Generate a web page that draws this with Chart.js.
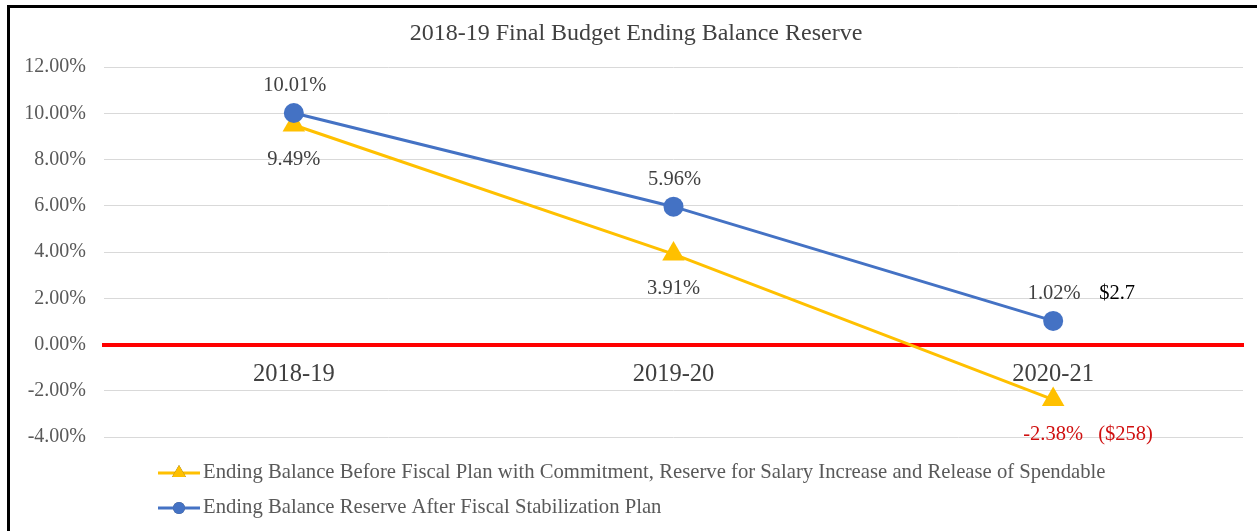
<!DOCTYPE html>
<html>
<head>
<meta charset="utf-8">
<script src="https://cdn.jsdelivr.net/npm/chart.js@4.4.0/dist/chart.umd.min.js"></script>
<style>
  body { margin: 0; background: #fff; }
  #wrap { position: absolute; left: 7px; top: 5px; width: 1247px; height: 523px;
          border-top: 3px solid #000; border-left: 3px solid #000; }
</style>
</head>
<body>
<div id="wrap"><canvas id="myChart" width="1247" height="523"></canvas></div>
<script>
const years = ['2018-19', '2019-20', '2020-21'];
const beforePlan = [9.49, 3.91, -2.38];
const afterPlan = [10.01, 5.96, 1.02];
const beforeAmounts = ['', '', '($258)'];
const afterAmounts = ['', '', '$2.7'];
const yTicks = [-4, -2, 0, 2, 4, 6, 8, 10, 12];
const beforeLabel = 'Ending Balance Before Fiscal Plan with Commitment, Reserve for Salary Increase and Release of Spendable';
const afterLabel = 'Ending Balance Reserve After Fiscal Stabilization Plan';
const chartTitle = '2018-19 Final Budget Ending Balance Reserve';

const SERIF = "'Liberation Serif', 'Times New Roman', serif";
Chart.defaults.font.family = SERIF;

const YELLOW = '#FFC000';
const BLUE = '#4472C4';

// labels, title and legend drawn by hand (Excel style)
const excelBits = {
  id: 'excelBits',
  afterDatasetsDraw(chart) {
    const ctx = chart.ctx;
    const x = chart.scales.x, y = chart.scales.y;
    ctx.save();
    ctx.textBaseline = 'middle';
    ctx.font = '20.5px ' + SERIF;

    // blue labels above the points
    afterPlan.forEach((v, i) => {
      const px = x.getPixelForValue(i), py = y.getPixelForValue(v);
      ctx.fillStyle = '#404040';
      ctx.textAlign = 'center';
      ctx.fillText(v.toFixed(2) + '%', px + 1, py - 27);
      if (afterAmounts[i]) {
        ctx.fillStyle = '#000';
        ctx.textAlign = 'left';
        ctx.fillText(afterAmounts[i], px + 46, py - 27);
      }
    });
    // yellow labels below the points
    beforePlan.forEach((v, i) => {
      const px = x.getPixelForValue(i), py = y.getPixelForValue(v);
      const neg = v < 0;
      ctx.fillStyle = neg ? '#D01010' : '#404040';
      ctx.textAlign = 'center';
      ctx.fillText(v.toFixed(2) + '%', px, py + 35);
      if (beforeAmounts[i]) {
        ctx.textAlign = 'left';
        ctx.fillText(beforeAmounts[i], px + 45, py + 35);
      }
    });

    // title
    ctx.fillStyle = '#404040';
    ctx.textAlign = 'center';
    ctx.font = '24px ' + SERIF;
    ctx.fillText(chartTitle, 626, 26);

    // legend
    const rows = [[beforeLabel, YELLOW, 'triangle'], [afterLabel, BLUE, 'circle']];
    ctx.font = '20.7px ' + SERIF;
    rows.forEach((r, k) => {
      const ly = 465 + k * 35;
      ctx.strokeStyle = r[1];
      ctx.lineWidth = 3;
      ctx.beginPath();
      ctx.moveTo(148, ly);
      ctx.lineTo(190, ly);
      ctx.stroke();
      Chart.helpers.drawPoint(ctx, {pointStyle: r[2], radius: r[2] === 'triangle' ? 8 : 6, borderWidth: 0}, 169, ly);
      ctx.fillStyle = r[1];
      ctx.fill();
      ctx.fillStyle = '#595959';
      ctx.textAlign = 'left';
      ctx.fillText(r[0], 193, ly);
    });
    ctx.restore();
  }
};

const data = {
  labels: years,
  datasets: [
    {
      label: beforeLabel,
      data: beforePlan,
      borderColor: YELLOW,
      backgroundColor: YELLOW,
      borderWidth: 3,
      pointStyle: 'triangle',
      pointRadius: 13,
      pointBorderWidth: 0,
      order: 1
    },
    {
      label: afterLabel,
      data: afterPlan,
      borderColor: BLUE,
      backgroundColor: BLUE,
      borderWidth: 3,
      pointStyle: 'circle',
      pointRadius: 10,
      pointBorderWidth: 0,
      order: 0
    }
  ]
};

const config = {
  type: 'line',
  data: data,
  options: {
    responsive: false,
    animation: false,
    layout: { padding: { top: 59, right: 14, bottom: 94, left: 0 } },
    plugins: {
      legend: { display: false },
      title: { display: false },
      tooltip: { enabled: false }
    },
    scales: {
      x: {
        position: { y: 0 },
        offset: true,
        grid: { display: false },
        border: { display: true, color: '#FF0000', width: 4 },
        ticks: { color: '#404040', font: { size: 24.5 }, padding: 7, maxRotation: 0 }
      },
      y: {
        min: -4,
        max: 12,
        afterFit: s => { s.width = 94; },
        afterBuildTicks: s => { s.ticks = yTicks.map(v => ({ value: v })); },
        grid: { color: '#D9D9D9', lineWidth: 1, drawTicks: false },
        border: { display: false },
        ticks: {
          color: '#595959',
          font: { size: 20 },
          padding: 18,
          callback: v => v.toFixed(2) + '%'
        }
      }
    }
  },
  plugins: [excelBits]
};

const myChart = new Chart(document.getElementById('myChart'), config);
</script>
</body>
</html>
